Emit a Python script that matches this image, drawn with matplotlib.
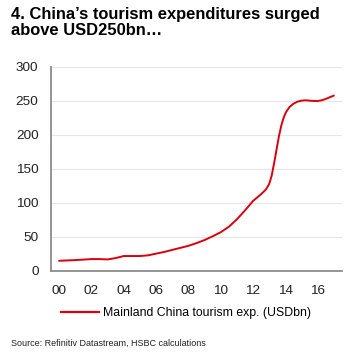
import matplotlib
matplotlib.use("Agg")
import matplotlib.pyplot as plt
from matplotlib.lines import Line2D

# Data (years since 2000, USDbn)
years = [0, 1, 2, 2.5, 3, 3.5, 4, 4.5, 5, 5.5, 6, 6.5, 7, 7.5, 8, 8.5, 9, 9.5, 10,
         10.5, 11, 11.5, 12, 12.5, 12.8, 13, 13.15, 13.3, 13.45, 13.6, 13.75, 13.9,
         14.05, 14.25, 14.5, 14.75, 15, 15.25, 15.5, 15.75, 16, 16.25, 16.5, 16.75, 17]
values = [15, 16, 17.5, 17.5, 17, 19, 22, 22, 22, 23, 25.5, 28, 31, 34, 37, 41, 45.5, 51, 57,
          65, 76, 89, 103, 113, 120, 128, 140, 158, 178, 198, 214, 226,
          234, 241, 246, 249, 250.5, 251, 250.5, 250, 250, 251, 253, 255.5, 258]
xtick_pos = [0, 2, 4, 6, 8, 10, 12, 14, 16]
xtick_labels = ["00", "02", "04", "06", "08", "10", "12", "14", "16"]
yticks = [0, 50, 100, 150, 200, 250, 300]
series_label = "Mainland China tourism exp. (USDbn)"

plt.rcParams['font.family'] = ['Liberation Sans', 'DejaVu Sans']
red = "#d7000f"
gray = "#8c8c8c"

fig = plt.figure(figsize=(3.63, 3.62), dpi=100)
ax = fig.add_axes([0.1405, 0.2514, 0.8015, 0.5636])
ax.plot(years, values, color=red, lw=1.4, solid_capstyle='round')
ax.set_xlim(-0.5, 17.5)
ax.set_ylim(0, 300)
ax.set_yticks(yticks)
ax.set_xticks(xtick_pos)
ax.set_xticklabels(xtick_labels)
ax.tick_params(axis='both', length=0, labelsize=9.7, colors="#222222")
ax.tick_params(axis='y', pad=9)
ax.tick_params(axis='x', pad=10)
for t in ax.get_yticks():
    if t > 0:
        ax.axhline(t, color="#e6e6e6", lw=0.8, zorder=0)
for s in ['top', 'right']:
    ax.spines[s].set_visible(False)
for s in ['left', 'bottom']:
    ax.spines[s].set_color(gray)
    ax.spines[s].set_linewidth(1.3)

fig.text(0.03, 0.981, "4. China\u2019s tourism expenditures surged\nabove USD250bn\u2026",
         fontsize=11.9, fontweight='bold', va='top', ha='left', linespacing=1.1)

handle = Line2D([0], [0], color=red, lw=1.6)
fig.legend([handle], [series_label], loc='center', bbox_to_anchor=(0.512, 0.135),
           frameon=False, fontsize=8.8, handlelength=3.1, handletextpad=0.35)

fig.text(0.03, 0.052, "Source: Refinitiv Datastream, HSBC calculations", fontsize=6.5,
         ha='left', va='center', color="#222222")

fig.savefig("out.png", dpi=100)
